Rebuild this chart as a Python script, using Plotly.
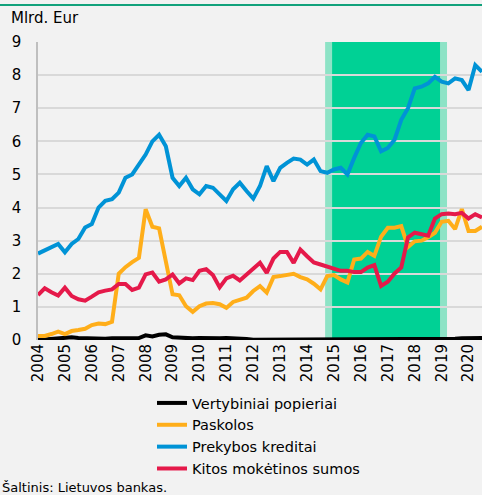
import plotly.graph_objects as go

# Quarterly data 2004Q1 .. 2020Q3
start_year = 2004
years = list(range(2004, 2021))
year_labels = [str(y) for y in years]

vertybiniai = [0.00, 0.02, 0.03, 0.05, 0.08, 0.08, 0.06, 0.05,
               0.05, 0.04, 0.04, 0.05, 0.06, 0.07, 0.07, 0.06,
               0.14, 0.11, 0.16, 0.17, 0.08, 0.06, 0.05, 0.05,
               0.06, 0.05, 0.05, 0.05, 0.06, 0.06, 0.04, 0.03,
               0.01, 0.01, 0.01, 0.02, 0.02, 0.02, 0.02, 0.02,
               0.02, 0.02, 0.02, 0.02, 0.03, 0.03, 0.03, 0.03,
               0.03, 0.03, 0.03, 0.03, 0.03, 0.03, 0.03, 0.03,
               0.03, 0.03, 0.03, 0.03, 0.04, 0.04, 0.04, 0.05,
               0.05, 0.06, 0.06]

paskolos = [0.12, 0.12, 0.18, 0.25, 0.18, 0.27, 0.30, 0.34,
            0.45, 0.50, 0.48, 0.55, 2.00, 2.20, 2.35, 2.48,
            3.95, 3.42, 3.37, 2.30, 1.38, 1.35, 1.02, 0.85,
            1.02, 1.10, 1.12, 1.08, 0.97, 1.15, 1.22, 1.28,
            1.48, 1.63, 1.43, 1.90, 1.93, 1.98, 2.00, 1.90,
            1.83, 1.70, 1.53, 1.93, 1.96, 1.83, 1.74, 2.43,
            2.46, 2.66, 2.54, 3.12, 3.39, 3.39, 3.44, 2.81,
            2.98, 3.00, 3.10, 3.24, 3.57, 3.60, 3.35, 3.95,
            3.29, 3.29, 3.42]

prekybos = [2.61, 2.70, 2.80, 2.90, 2.65, 2.90, 3.05, 3.40,
            3.50, 4.00, 4.20, 4.25, 4.45, 4.90, 5.00, 5.30,
            5.60, 6.00, 6.20, 5.85, 4.90, 4.65, 4.90, 4.55,
            4.40, 4.65, 4.60, 4.40, 4.20, 4.55, 4.75, 4.50,
            4.27, 4.65, 5.25, 4.80, 5.20, 5.35, 5.48, 5.45,
            5.30, 5.45, 5.10, 5.05, 5.15, 5.20, 5.00, 5.50,
            5.95, 6.20, 6.15, 5.70, 5.80, 6.05, 6.65, 7.00,
            7.60, 7.65, 7.75, 7.95, 7.80, 7.75, 7.90, 7.85,
            7.55, 8.30, 8.10]

kitos = [1.36, 1.56, 1.44, 1.34, 1.58, 1.33, 1.23, 1.19,
         1.31, 1.44, 1.49, 1.53, 1.69, 1.69, 1.51, 1.58,
         1.98, 2.04, 1.76, 1.83, 1.98, 1.71, 1.86, 1.81,
         2.09, 2.14, 1.96, 1.59, 1.86, 1.94, 1.80, 1.98,
         2.19, 2.33, 2.03, 2.46, 2.66, 2.66, 2.33, 2.73,
         2.53, 2.34, 2.28, 2.21, 2.13, 2.09, 2.09, 2.05,
         2.05, 2.19, 2.26, 1.63, 1.76, 2.01, 2.19, 3.10,
         3.24, 3.20, 3.15, 3.67, 3.80, 3.82, 3.80, 3.84,
         3.67, 3.80, 3.70]

x = [start_year + i / 4 for i in range(len(prekybos))]

band_outer = [2014.67, 2019.2]
band_inner = [2014.93, 2018.94]

series = [
    ("Vertybiniai popieriai", vertybiniai, "#000000"),
    ("Paskolos", paskolos, "#FFAE1A"),
    ("Prekybos kreditai", prekybos, "#0093D6"),
    ("Kitos mokėtinos sumos", kitos, "#E5194A"),
]

FONT = "DejaVu Sans"

fig = go.Figure()
for name, vals, col in series:
    fig.add_trace(go.Scatter(x=x, y=vals, name=name, mode="lines",
                             line=dict(color=col, width=4)))

fig.add_shape(type="rect", xref="x", yref="paper", x0=band_outer[0], x1=band_outer[1],
              y0=0, y1=1, fillcolor="#8DE3C6", line_width=0, layer="below")
fig.add_shape(type="rect", xref="x", yref="paper", x0=band_inner[0], x1=band_inner[1],
              y0=0, y1=1, fillcolor="#00D195", line_width=0, layer="below")
# top green rule
fig.add_shape(type="line", xref="paper", yref="paper", x0=-0.1, x1=1.0,
              y0=(340 - 5) / 298, y1=(340 - 5) / 298,
              line=dict(color="#12A27C", width=2))

fig.add_annotation(text="Mlrd. Eur", xref="paper", yref="paper",
                   x=(9 - 38) / 444, y=(340 - 7) / 298, xanchor="left", yanchor="top",
                   showarrow=False, font=dict(family=FONT, size=15, color="#000"))
fig.add_annotation(text="Šaltinis: Lietuvos bankas.", xref="paper", yref="paper",
                   x=(0 - 38) / 444, y=(340 - 478) / 298, xanchor="left", yanchor="top",
                   showarrow=False, font=dict(family=FONT, size=13, color="#000"))

fig.update_layout(
    width=482, height=495,
    margin=dict(l=38, r=0, t=42, b=155, autoexpand=False),
    paper_bgcolor="#F2F2F2", plot_bgcolor="#F2F2F2",
    font=dict(family=FONT, size=15, color="#000"),
    showlegend=True,
    legend=dict(x=(152 - 38) / 444, y=(340 - 387) / 298, xanchor="left", yanchor="top",
                bgcolor="rgba(0,0,0,0)", font=dict(family=FONT, size=14.5, color="#000"),
                tracegroupgap=0),
)
fig.update_xaxes(range=[2004, 2020.5], tickvals=years, ticktext=year_labels,
                 tickangle=-90, showgrid=False, zeroline=False, showline=False,
                 ticks="", automargin=False, tickfont=dict(family=FONT, size=15, color="#000"))
fig.update_yaxes(range=[0, 9], dtick=1, showgrid=True, gridcolor="#D9D9D9", gridwidth=1.5,
                 zeroline=False, showline=True, linecolor="#BFBFBF", linewidth=1.5,
                 ticks="", ticklabelstandoff=12, automargin=False,
                 tickfont=dict(family=FONT, size=15, color="#000"))

fig.write_html("out.html", config={"displayModeBar": False},
               post_script="document.body.style.margin='0';document.body.style.overflow='hidden';")
